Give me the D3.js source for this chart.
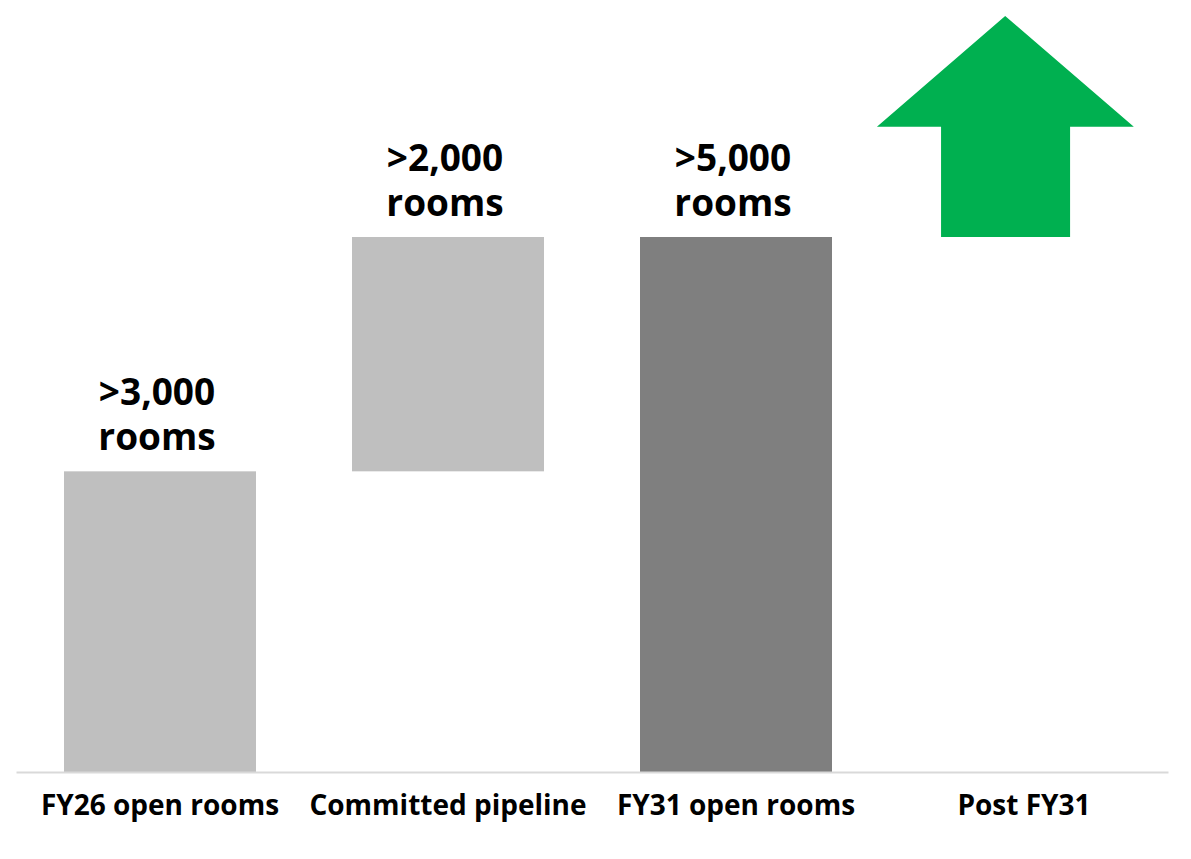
<!DOCTYPE html>
<html>
<head>
  <meta charset="utf-8">
  <title>Rooms waterfall</title>
  <script src="https://cdn.jsdelivr.net/npm/d3@7"></script>
  <style>
    body { margin: 0; background: #fff; }
    text { font-family: 'Open Sans', 'Noto Sans', sans-serif; font-weight: 700; fill: #000; }
    .axis path { stroke: #d9d9d9; stroke-width: 2; }
    .axis text { font-size: 28px; }
    text.value { font-size: 37px; }
  </style>
</head>
<body>
  <svg id="chart"></svg>
  <script>
    // data
    var categories = ['FY26 open rooms', 'Committed pipeline', 'FY31 open rooms', 'Post FY31'];
    var barStart = [0, 2810, 0];
    var barEnd = [2810, 5000, 5000];
    var barKind = ['step', 'step', 'total'];
    var valueLabels = ['>3,000', '>2,000', '>5,000'];
    // growth arrow after FY31: base, shoulder and tip values
    var arrowBase = 5000, arrowShoulder = 6030, arrowTip = 7065;

    var width = 1191, height = 859;

    var svg = d3.select('#chart')
      .attr('width', width)
      .attr('height', height);

    var x = d3.scaleBand()
      .domain(categories)
      .range([16, 1168])
      .paddingInner(1 / 3)
      .paddingOuter(1 / 6);

    var y = d3.scaleLinear()
      .domain([0, 5000])
      .range([772, 237]);

    var color = d3.scaleOrdinal()
      .domain(['step', 'total'])
      .range(['#bfbfbf', '#7f7f7f']);

    var bars = barStart.map((s, i) => ({ cat: categories[i], s: s, e: barEnd[i], kind: barKind[i], label: valueLabels[i] }));

    svg.selectAll('.bar')
      .data(bars)
      .enter()
      .append('rect')
      .attr('class', 'bar')
      .attr('x', d => x(d.cat))
      .attr('y', d => y(d.e))
      .attr('width', x.bandwidth())
      .attr('height', d => y(d.s) - y(d.e))
      .attr('fill', d => color(d.kind));

    // value labels, two lines above each bar
    var cx = d => x(d.cat) + x.bandwidth() / 2 - 3;

    var lab = svg.selectAll('.value')
      .data(bars)
      .enter()
      .append('text')
      .attr('class', 'value')
      .attr('text-anchor', 'middle')
      .attr('x', cx)
      .attr('y', d => y(d.e) - 21);

    lab.append('tspan')
      .attr('x', cx)
      .attr('dy', -45)
      .text(d => d.label);
    lab.append('tspan')
      .attr('x', cx)
      .attr('dy', 45)
      .text('rooms');

    // arrow in the last band, shape relative to the band
    var ax = x('Post FY31'), bw = x.bandwidth();
    var arrowPts = [
      [ax + 0.068 * bw, y(arrowBase)],
      [ax + 0.068 * bw, y(arrowShoulder)],
      [ax - 0.266 * bw, y(arrowShoulder)],
      [ax + 0.402 * bw, y(arrowTip)],
      [ax + 1.072 * bw, y(arrowShoulder)],
      [ax + 0.740 * bw, y(arrowShoulder)],
      [ax + 0.740 * bw, y(arrowBase)]
    ];
    svg.append('path')
      .attr('d', d3.line()(arrowPts) + 'Z')
      .attr('fill', '#00b050');

    var xAxis = d3.axisBottom(x)
      .tickSize(0)
      .tickPadding(23);

    svg.append('g')
      .attr('class', 'axis')
      .attr('transform', 'translate(0,' + y(0) + ')')
      .call(xAxis)
      .call(g => g.selectAll('text').attr('fill', '#000').attr('font-family', null).attr('font-size', null));
  </script>
</body>
</html>
